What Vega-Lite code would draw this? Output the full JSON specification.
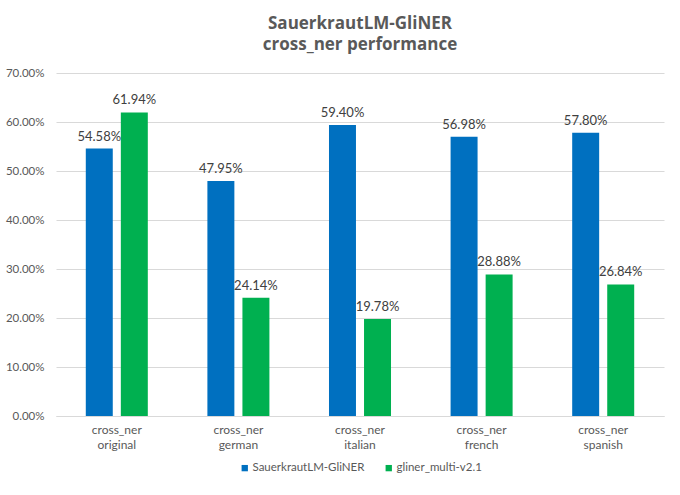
{
  "$schema": "https://vega.github.io/schema/vega-lite/v6.json",
  "width": 608,
  "height": 343,
  "padding": {"left": 5, "right": 15, "top": 15, "bottom": 7},
  "background": "white",
  "title": {
    "text": ["SauerkrautLM-GliNER", "cross_ner performance"],
    "fontSize": 17,
    "font": "Open Sans",
    "fontWeight": "bold",
    "color": "#595959",
    "lineHeight": 21,
    "offset": 13,
    "anchor": "middle"
  },
  "data": {
    "values": [
      {"category": "cross_ner original", "model": "SauerkrautLM-GliNER", "value": 0.5458},
      {"category": "cross_ner original", "model": "gliner_multi-v2.1", "value": 0.6194},
      {"category": "cross_ner german", "model": "SauerkrautLM-GliNER", "value": 0.4795},
      {"category": "cross_ner german", "model": "gliner_multi-v2.1", "value": 0.2414},
      {"category": "cross_ner italian", "model": "SauerkrautLM-GliNER", "value": 0.594},
      {"category": "cross_ner italian", "model": "gliner_multi-v2.1", "value": 0.1978},
      {"category": "cross_ner french", "model": "SauerkrautLM-GliNER", "value": 0.5698},
      {"category": "cross_ner french", "model": "gliner_multi-v2.1", "value": 0.2888},
      {"category": "cross_ner spanish", "model": "SauerkrautLM-GliNER", "value": 0.578},
      {"category": "cross_ner spanish", "model": "gliner_multi-v2.1", "value": 0.2684}
    ]
  },
  "encoding": {
    "x": {
      "field": "category",
      "type": "nominal",
      "sort": null,
      "scale": {"paddingInner": 0.49, "paddingOuter": 0.245},
      "axis": {
        "title": null,
        "labelAngle": 0,
        "labelExpr": "split(datum.label, ' ')",
        "labelFontSize": 12,
        "labelColor": "#595959",
        "labelFont": "Lato",
        "labelPadding": 8,
        "labelLineHeight": 15,
        "ticks": false,
        "domainColor": "#d9d9d9",
        "grid": false
      }
    },
    "xOffset": {"field": "model", "sort": null, "scale": {"paddingInner": 0.23}},
    "y": {
      "field": "value",
      "type": "quantitative",
      "scale": {"domain": [0, 0.7]},
      "axis": {
        "title": null,
        "format": ".2%",
        "values": [0, 0.1, 0.2, 0.3, 0.4, 0.5, 0.6, 0.7],
        "labelFontSize": 11.5,
        "labelColor": "#595959",
        "labelFont": "Lato",
        "labelPadding": 12,
        "ticks": false,
        "domain": false,
        "gridColor": "#d9d9d9"
      }
    }
  },
  "layer": [
    {
      "mark": {"type": "bar"},
      "encoding": {
        "color": {
          "field": "model",
          "type": "nominal",
          "sort": null,
          "scale": {"domain": ["SauerkrautLM-GliNER", "gliner_multi-v2.1"], "range": ["#0070C0", "#00B050"]},
          "legend": {
            "title": null,
            "orient": "bottom",
            "direction": "horizontal",
            "symbolType": "square",
            "symbolSize": 40,
            "symbolStrokeWidth": 0,
            "labelOffset": 2,
            "labelFontSize": 11.5,
            "labelColor": "#595959",
            "labelFont": "Lato",
            "columnPadding": 18,
            "offset": 12
          }
        }
      }
    },
    {
      "mark": {"type": "text", "baseline": "bottom", "dy": -5, "fontSize": 13, "font": "Lato", "color": "#404040"},
      "encoding": {
        "text": {"field": "value", "type": "quantitative", "format": ".2%"}
      }
    }
  ],
  "config": {
    "view": {"stroke": null},
    "legend": {"layout": {"bottom": {"anchor": "middle"}}}
  }
}
